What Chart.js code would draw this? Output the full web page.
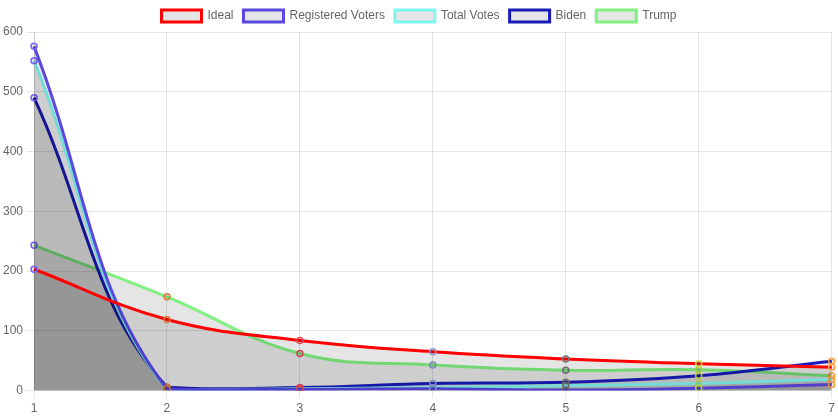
<!DOCTYPE html>
<html>
<head>
<meta charset="utf-8">
<script src="https://cdn.jsdelivr.net/npm/chart.js@4"></script>
<style>
  html, body { margin: 0; padding: 0; background: #fff; }
  #wrap { width: 838px; height: 419px; }
</style>
</head>
<body>
<div id="wrap"><canvas id="chart"></canvas></div>
<script>
const digits = ['1', '2', '3', '4', '5', '6', '7'];
const ideal = [203, 119, 84, 65, 53, 45, 39];
const registered = [576, 3, 2, 3, 1, 4, 10];
const totalVotes = [552, 2, 3, 5, 8, 12, 19];
const biden = [490, 6, 5, 12, 14, 25, 49];
const trump = [243, 157, 62, 43, 34, 35, 25];

const pointColors = ['#7b61ff', '#e07b39', '#e84a5f', '#8a9ad8', '#777777', '#c8e04a', '#ff9f40'];

function series(label, data, color) {
  return {
    label, data,
    borderColor: color,
    backgroundColor: 'rgba(0,0,0,0.1)',
    borderWidth: 3,
    fill: true,
    tension: 0.4,
    pointRadius: 3,
    pointBorderWidth: 1.5,
    pointBackgroundColor: 'rgba(0,0,0,0.1)',
    pointBorderColor: pointColors,
  };
}

new Chart(document.getElementById('chart'), {
  type: 'line',
  data: {
    labels: digits,
    datasets: [
      series('Ideal', ideal, '#ff0000'),
      series('Registered Voters', registered, '#5a48e0'),
      series('Total Votes', totalVotes, '#7ff5f0'),
      series('Biden', biden, '#1a1ab8'),
      series('Trump', trump, '#80f080'),
    ],
  },
  options: {
    responsive: true,
    maintainAspectRatio: false,
    animation: false,
    plugins: { legend: { position: 'top' } },
    scales: {
      y: { min: 0, max: 600, ticks: { stepSize: 100 } },
    },
  },
});
</script>
</body>
</html>
